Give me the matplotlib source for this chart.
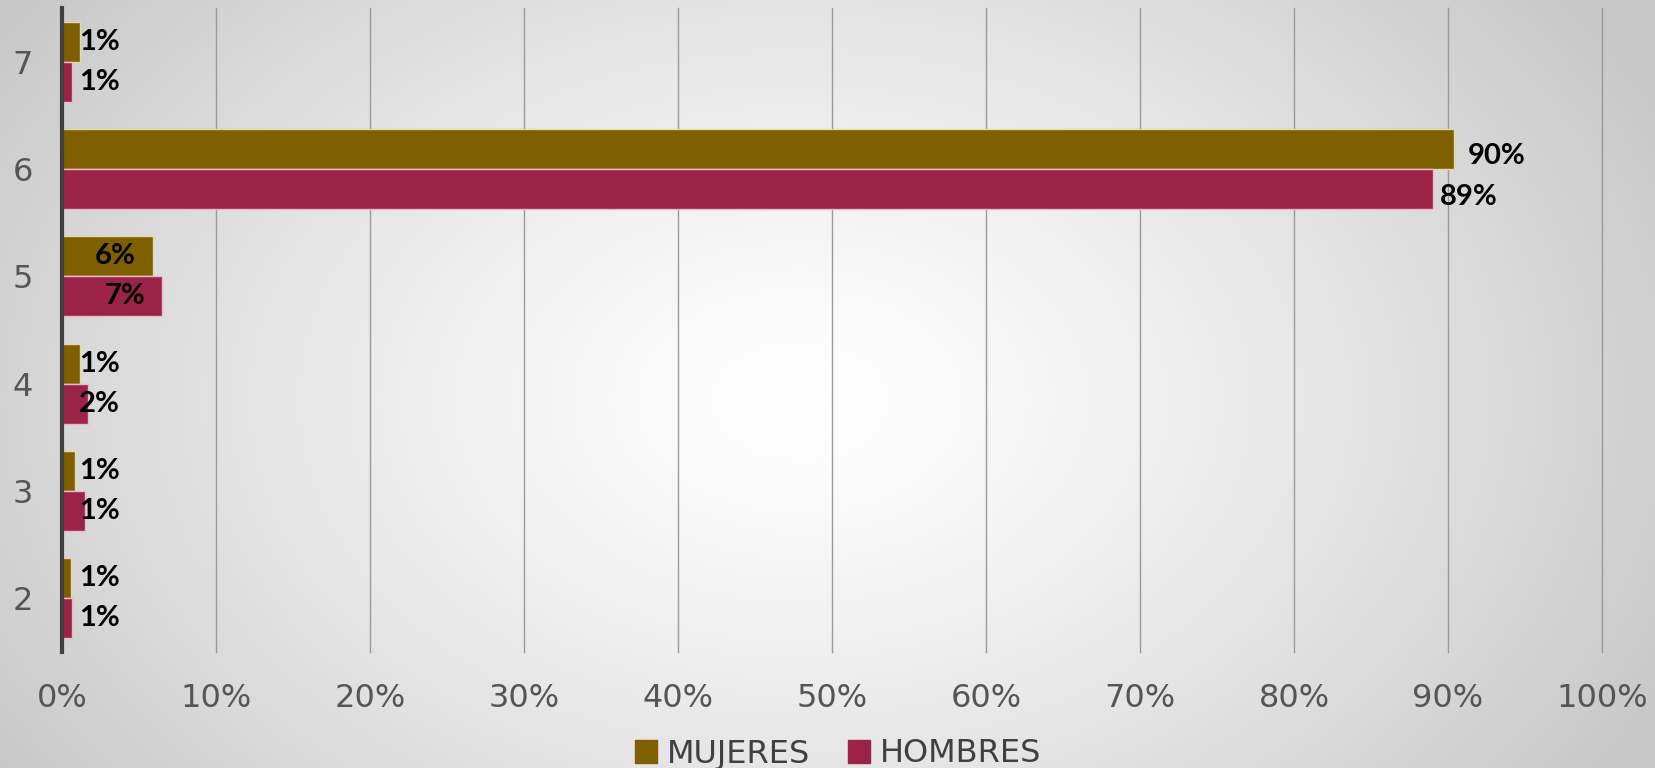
import matplotlib.pyplot as plt
import numpy as np

categorias = ["2", "3", "4", "5", "6", "7"]
mujeres = [0.6, 0.85, 1.15, 5.9, 90.4, 1.15]
hombres = [0.65, 1.5, 1.7, 6.5, 89.0, 0.65]
etiquetas_m = ["1%", "1%", "1%", "6%", "90%", "1%"]
etiquetas_h = ["1%", "1%", "2%", "7%", "89%", "1%"]
xticks = list(range(0, 101, 10))

COLOR_M = "#7F6000"
COLOR_H = "#9B2348"
GRIS = "#555555"

fig = plt.figure(figsize=(16.55, 7.68), dpi=100)

# fondo con degradado radial
bg = fig.add_axes([0, 0, 1, 1], zorder=-10)
yy, xx = np.mgrid[0:768, 0:1655]
r = np.sqrt(((xx - 800) / 1000.0) ** 2 + ((yy - 400) / 700.0) ** 2)
r = np.clip(r / 0.95, 0, 1)
val = 0.998 - 0.21 * r ** 1.3
bg.imshow(np.dstack([val, val, val]), aspect="auto", extent=[0, 1, 0, 1])
bg.axis("off")

ax = fig.add_axes([62 / 1655, 1 - 652 / 768, 1540 / 1655, 644 / 768])
ax.patch.set_alpha(0)

y = np.arange(len(categorias))
h = 0.373
ax.barh(y + h / 2, mujeres, height=h, color=COLOR_M, edgecolor="#E6D7A6", lw=1, zorder=3)
ax.barh(y - h / 2, hombres, height=h, color=COLOR_H, edgecolor="#EBB9C8", lw=1, zorder=3)

lab = dict(fontsize=21, fontweight="bold", family=["Lato", "DejaVu Sans"], va="center", color="black", zorder=5)
for i in range(len(categorias)):
    vm, vh = mujeres[i], hombres[i]
    if vm > 50:
        ax.text(vm + 0.9, y[i] + h / 2 - 0.07, etiquetas_m[i], ha="left", **lab)
        ax.text(vh + 0.5, y[i] - h / 2 - 0.07, etiquetas_h[i], ha="left", **lab)
    elif vm > 3:
        ax.text(vm - 1.1, y[i] + h / 2, etiquetas_m[i], ha="right", **lab)
        ax.text(vh - 1.1, y[i] - h / 2, etiquetas_h[i], ha="right", **lab)
    else:
        ax.text(1.1, y[i] + h / 2, etiquetas_m[i], ha="left", **lab)
        ax.text(1.1, y[i] - h / 2, etiquetas_h[i], ha="left", **lab)

ax.set_xlim(0, 100)
ax.set_ylim(-0.5, len(categorias) - 0.5)
ax.set_xticks(xticks)
ax.set_xticklabels([f"{t}%" for t in xticks])
ax.set_yticks(y)
ax.set_yticklabels(categorias)
ax.tick_params(axis="both", length=0, labelsize=23, labelcolor=GRIS)
ax.tick_params(axis="x", pad=22)
ax.tick_params(axis="y", pad=21)
for t in ax.get_xticklabels() + ax.get_yticklabels():
    t.set_family(["DejaVu Sans"])

ax.grid(axis="x", color="#9A9A9A", lw=1, zorder=0)
for gl in ax.get_xgridlines():
    gl.set_clip_on(False)
for s in ["top", "right", "bottom"]:
    ax.spines[s].set_visible(False)
ax.spines["left"].set_color("#404040")
ax.spines["left"].set_linewidth(3)
ax.spines["left"].set_zorder(6)

handles = [plt.Rectangle((0, 0), 1, 1, color=COLOR_M), plt.Rectangle((0, 0), 1, 1, color=COLOR_H)]
leg = fig.legend(handles, ["MUJERES", "HOMBRES"], loc="center", bbox_to_anchor=(838 / 1655, 1 - 754 / 768),
                 ncol=2, frameon=False, fontsize=23, handlelength=0.7, handleheight=0.7,
                 handletextpad=0.3, columnspacing=1.2, labelcolor="#404040")

fig.savefig("out.png", dpi=100)
